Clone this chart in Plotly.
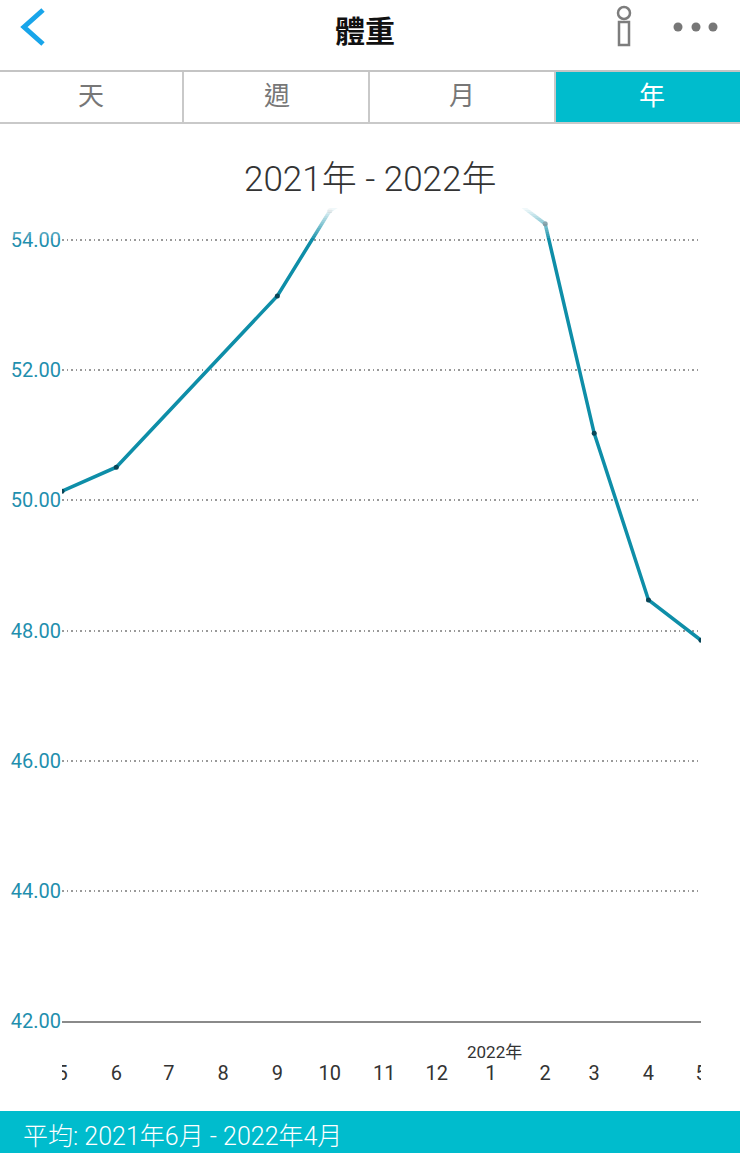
import plotly.graph_objects as go

# months on the axis, 2021-05 to 2022-05
dates = ['2021-05-01', '2021-06-01', '2021-09-01', '2021-10-01', '2021-11-01', '2021-12-01',
         '2022-01-01', '2022-02-01', '2022-03-01', '2022-04-01', '2022-05-01']
weights = [50.14, 50.51, 53.14, 54.45, 54.95, 55.00, 54.88, 54.25, 51.03, 48.47, 47.85]

tick_dates = ['2021-05-01', '2021-06-01', '2021-07-01', '2021-08-01', '2021-09-01', '2021-10-01',
              '2021-11-01', '2021-12-01', '2022-01-01', '2022-02-01', '2022-03-01', '2022-04-01',
              '2022-05-01']
tick_labels = ['5', '6', '7', '8', '9', '10', '11', '12', '1', '2', '3', '4', '5']
y_ticks = [42, 44, 46, 48, 50, 52, 54]

tabs = ['天', '週', '月', '年']
tab_centers = [91, 277, 462, 652]
tab_dividers = [183, 369, 555]

W, H = 740, 1153
TEAL = '#00bccd'
LINE = '#0e8ea8'
FONT = 'Roboto, Noto Sans CJK TC, sans-serif'


def px(x):
    return x / W


def py(y):
    return 1 - y / H


def rect(x0, y0, x1, y1, color, opacity=1):
    return dict(type='rect', xref='paper', yref='paper', x0=px(x0), x1=px(x1), y0=py(y0), y1=py(y1),
                fillcolor=color, opacity=opacity, line_width=0, layer='above')


def hline(x0, x1, y, color, width=2):
    return dict(type='line', xref='paper', yref='paper', x0=px(x0), x1=px(x1), y0=py(y), y1=py(y),
                line=dict(color=color, width=width), layer='above')


def label(x, y, text, size, color, anchor='center', weight=None):
    return dict(xref='paper', yref='paper', x=px(x), y=py(y), text=text, showarrow=False,
                xanchor=anchor, yanchor='middle',
                font=dict(size=size, color=color, family=FONT, weight=weight))


trace = go.Scatter(x=dates, y=weights, mode='lines+markers',
                   line=dict(color=LINE, width=3.5),
                   marker=dict(color='#0a4658', size=5))

shapes = []
# solid cover above the chart, then a fade down to the 54 gridline
shapes.append(rect(0, 124, W, 206, 'white'))
for y in range(206, 238, 2):
    shapes.append(rect(0, y, W, y + 2, 'white', (240 - y) / 34))

# clip the edge tick labels at the plot edges
shapes.append(rect(40, 1060, 62, 1090, 'white'))
shapes.append(rect(701, 1060, W, 1090, 'white'))

# tab bar
shapes.append(rect(555, 72, W, 122, TEAL))
shapes.append(hline(0, W, 71, '#c4c4c4'))
shapes.append(hline(0, W, 123, '#c9c9c9'))
for x in tab_dividers:
    shapes.append(dict(type='line', xref='paper', yref='paper', x0=px(x), x1=px(x), y0=py(72), y1=py(122),
                       line=dict(color='#c9c9c9', width=2), layer='above'))

# header icons
shapes.append(dict(type='path', xref='paper', yref='paper', layer='above',
                   path=f'M {px(43)} {py(10)} L {px(24)} {py(27)} L {px(43)} {py(44)}',
                   line=dict(color='#18a5ea', width=5)))
shapes.append(dict(type='circle', xref='paper', yref='paper', layer='above',
                   x0=px(618), x1=px(630), y0=py(19), y1=py(7),
                   line=dict(color='#7d7d7d', width=2.5)))
shapes.append(dict(type='rect', xref='paper', yref='paper', layer='above',
                   x0=px(619), x1=px(629), y0=py(45), y1=py(22),
                   line=dict(color='#7d7d7d', width=2.5)))
for x in [678, 696, 713]:
    shapes.append(dict(type='circle', xref='paper', yref='paper', layer='above',
                       x0=px(x - 4.5), x1=px(x + 4.5), y0=py(31.5), y1=py(22.5),
                       fillcolor='#777777', line_width=0))

# footer
shapes.append(rect(0, 1111, W, H, TEAL))

annotations = [
    label(365, 32, '體重', 30, '#111111', weight='bold'),
    label(370, 180, '2021年 - 2022年', 35, '#333333', weight=300),
    label(21, 1136, '平均: 2021年6月 - 2022年4月', 25, 'white', anchor='left', weight=300),
    dict(xref='x', yref='paper', x='2022-01-03', y=py(1052), text='2022年', showarrow=False,
         xanchor='center', yanchor='middle',
         font=dict(size=17, color='#333333', family=FONT)),
]
for t, x in zip(tabs, tab_centers):
    annotations.append(label(x, 96, t, 26, 'white' if t == '年' else '#777777'))

layout = go.Layout(
    template='none',
    width=W, height=H,
    margin=dict(l=0, r=0, t=0, b=0),
    paper_bgcolor='white', plot_bgcolor='white',
    showlegend=False,
    xaxis=dict(type='date', domain=[px(62), px(701)], range=['2021-05-01', '2022-05-01'],
               automargin=False,
               tickmode='array', tickvals=tick_dates, ticktext=tick_labels,
               ticks='', showgrid=False, zeroline=False,
               showline=True, linecolor='#8a8a8a', linewidth=1.5,
               ticklabelstandoff=33,
               tickfont=dict(size=20, color='#333333', family=FONT)),
    yaxis=dict(domain=[py(1021), py(124)], range=[42, 42 + (1021 - 124) / 65.08],
               automargin=False,
               tickmode='array', tickvals=y_ticks, tickformat='.2f',
               ticks='', showline=False, zeroline=False,
               showgrid=True, gridcolor='#999999', gridwidth=1.5, griddash='1.5px,3px',
               tickfont=dict(size=20, color='#1f8fae', family=FONT)),
    shapes=shapes,
    annotations=annotations,
)

fig = go.Figure(data=[trace], layout=layout)
fig.write_html('out.html', config=dict(displayModeBar=False),
               post_script="document.body.style.margin='0';")
